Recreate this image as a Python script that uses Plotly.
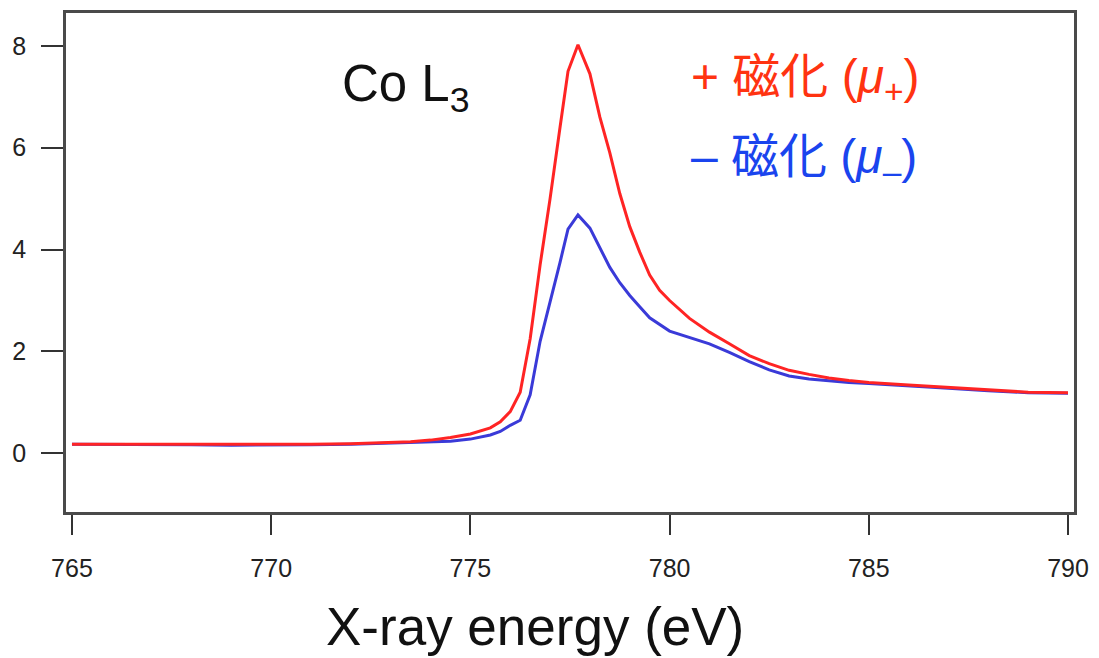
import plotly.graph_objects as go

energy_plus = [765, 766, 767, 768, 769, 770, 771, 772, 773, 773.5, 774, 774.5, 775, 775.5, 775.75,
               776, 776.25, 776.5, 776.75, 777, 777.25, 777.45, 777.7, 778.0, 778.25, 778.5, 778.75,
               779, 779.25, 779.5, 779.75, 780, 780.5, 781, 781.5, 782, 782.5, 783, 783.5, 784,
               784.5, 785, 786, 787, 788, 789, 790]
mu_plus = [0.18, 0.18, 0.17, 0.17, 0.17, 0.17, 0.18, 0.19, 0.21, 0.23, 0.26, 0.31, 0.38, 0.5, 0.62,
           0.82, 1.2, 2.25, 3.7, 5.0, 6.4, 7.5, 8.02, 7.45, 6.6, 5.9, 5.1,
           4.45, 3.95, 3.5, 3.2, 3.0, 2.65, 2.38, 2.15, 1.92, 1.76, 1.63, 1.55, 1.48,
           1.43, 1.39, 1.34, 1.29, 1.24, 1.2, 1.19]

energy_minus = [765, 766, 767, 768, 769, 770, 771, 772, 773, 774, 774.5, 775, 775.5, 775.75,
                776, 776.25, 776.5, 776.75, 777, 777.25, 777.45, 777.7, 778, 778.25, 778.5, 778.75,
                779, 779.25, 779.5, 780, 780.5, 781, 781.5, 782, 782.5, 783, 783.5, 784,
                784.5, 785, 786, 787, 788, 789, 790]
mu_minus = [0.18, 0.18, 0.17, 0.17, 0.16, 0.16, 0.17, 0.18, 0.2, 0.22, 0.24, 0.28, 0.36, 0.43,
            0.55, 0.65, 1.15, 2.2, 2.95, 3.75, 4.4, 4.68, 4.42, 4.05, 3.65, 3.35,
            3.1, 2.88, 2.66, 2.4, 2.27, 2.15, 1.98, 1.8, 1.64, 1.52, 1.46, 1.42,
            1.39, 1.37, 1.33, 1.28, 1.23, 1.19, 1.18]

x_ticks = [765, 770, 775, 780, 785, 790]
y_ticks = [0, 2, 4, 6, 8]

FONT = "Liberation Sans, Arial, Noto Sans CJK JP, sans-serif"
TICKFONT = "Liberation Sans Narrow, Arial Narrow, Liberation Sans, sans-serif"

fig = go.Figure()
fig.add_trace(go.Scatter(x=energy_minus, y=mu_minus, mode="lines",
                         line=dict(color="#3a3ad8", width=3), showlegend=False))
fig.add_trace(go.Scatter(x=energy_plus, y=mu_plus, mode="lines",
                         line=dict(color="#ff2424", width=3), showlegend=False))

axis_common = dict(showline=True, mirror=True, linecolor="#4a4a4a", linewidth=2.5,
                   ticks="outside", tickwidth=2, tickcolor="#333333",
                   showgrid=False, zeroline=False,
                   tickfont=dict(family=TICKFONT, size=25, color="#222222"))

fig.update_layout(
    width=1099, height=658,
    margin=dict(l=66, r=21, t=10, b=146),
    paper_bgcolor="white", plot_bgcolor="white",
    xaxis=dict(range=[764.85, 790.15], tickvals=x_ticks, ticklen=20, ticklabelstandoff=12, **axis_common),
    yaxis=dict(range=[-1.151, 8.644], tickvals=y_ticks, ticklen=22, ticklabelstandoff=10, **axis_common),
    font=dict(family=FONT),
)

fig.add_annotation(text="X-ray energy (eV)", xref="paper", yref="paper",
                   x=0.465, y=-0.23, xanchor="center", yanchor="middle", showarrow=False,
                   font=dict(family=FONT, size=53, color="#111111"))
fig.add_annotation(text="Co L<sub>3</sub>", xref="paper", yref="paper",
                   x=0.272, y=0.85, xanchor="left", yanchor="middle", showarrow=False,
                   font=dict(family=FONT, size=51, color="#111111"))
fig.add_annotation(text="+ 磁化 (<i>μ</i><sub>+</sub>)", xref="paper", yref="paper",
                   x=0.618, y=0.865, xanchor="left", yanchor="middle", showarrow=False,
                   font=dict(family=FONT, size=48, color="#ff3311"))
fig.add_annotation(text="– 磁化 (<i>μ</i><sub>–</sub>)", xref="paper", yref="paper",
                   x=0.618, y=0.705, xanchor="left", yanchor="middle", showarrow=False,
                   font=dict(family=FONT, size=48, color="#1a44ee"))

fig.write_html("out.html", config={"displayModeBar": False},
               post_script="document.body.style.margin='0';document.body.style.overflow='hidden';")
